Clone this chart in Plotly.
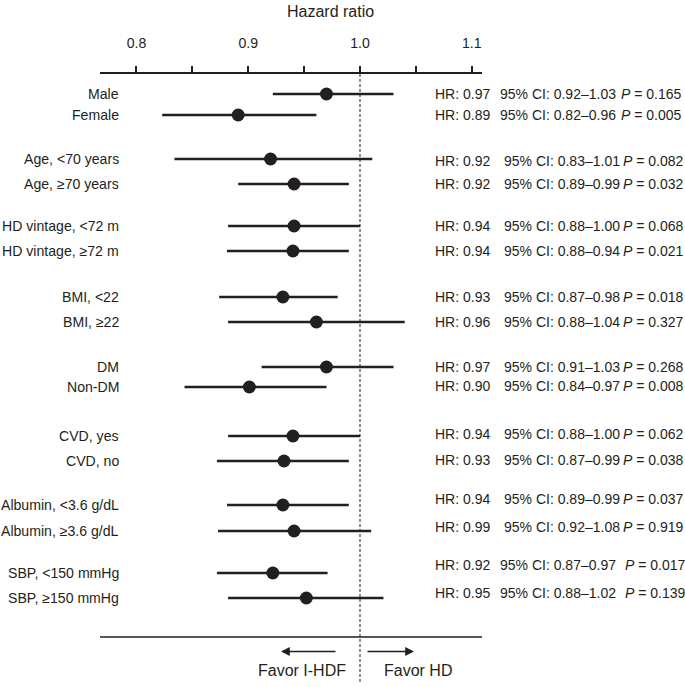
import plotly.graph_objects as go

# ---------------- data ----------------
labels = ["Male", "Female", "Age, <70 years", "Age, ≥70 years",
          "HD vintage, <72 m", "HD vintage, ≥72 m", "BMI, <22", "BMI, ≥22",
          "DM", "Non-DM", "CVD, yes", "CVD, no",
          "Albumin, <3.6 g/dL", "Albumin, ≥3.6 g/dL",
          "SBP, <150 mmHg", "SBP, ≥150 mmHg"]
hr = [0.970, 0.891, 0.920, 0.941, 0.941, 0.940, 0.931, 0.961,
      0.970, 0.901, 0.940, 0.932, 0.931, 0.941, 0.922, 0.952]
ci_lo = [0.922, 0.823, 0.834, 0.891, 0.882, 0.881, 0.874, 0.882,
         0.912, 0.843, 0.882, 0.872, 0.881, 0.873, 0.872, 0.882]
ci_hi = [1.030, 0.961, 1.011, 0.990, 1.000, 0.990, 0.980, 1.040,
         1.030, 0.970, 1.000, 0.990, 0.990, 1.010, 0.971, 1.021]

hr_txt = ["0.97", "0.89", "0.92", "0.92", "0.94", "0.94", "0.93", "0.96",
          "0.97", "0.90", "0.94", "0.93", "0.94", "0.99", "0.92", "0.95"]
ci_txt = ["0.92–1.03", "0.82–0.96", "0.83–1.01", "0.89–0.99",
          "0.88–1.00", "0.88–0.94", "0.87–0.98", "0.88–1.04",
          "0.91–1.03", "0.84–0.97", "0.88–1.00", "0.87–0.99",
          "0.89–0.99", "0.92–1.08", "0.87–0.97", "0.88–1.02"]
p_txt = ["0.165", "0.005", "0.082", "0.032", "0.068", "0.021", "0.018", "0.327",
         "0.268", "0.008", "0.062", "0.038", "0.037", "0.919", "0.017", "0.139"]

tick_vals = [0.8, 0.85, 0.9, 0.95, 1.0, 1.05, 1.1]
tick_text = ["0.8", "", "0.9", "", "1.0", "", "1.1"]

# ---------------- layout (pixel geometry) ----------------
W, H = 685, 687
PL, PR, PT, PB = 100, 482, 74, 637   # plot area in pixels
L, T = PL, PT
R, B = W - PR, H - PB
row_y = [94, 115, 159, 184, 226, 251, 297, 322, 367, 387, 436, 461, 505, 531, 573, 598]
text_y = [94, 115, 161, 184, 226, 251, 297, 322, 367, 386, 434, 460, 499, 527, 565, 593]
ci_col = [498, 498] + [501.5] * 12 + [498, 498]
p_col = [618.5, 618.5] + [620.5] * 12 + [622.5, 622.5]
hr_col = 433
INK = "#231f20"
FONT = "Arial, Liberation Sans, sans-serif"
FS = 14.1
FS_R = 14


def px(xp):
    return (xp - PL) / (PR - PL)


def py(yp):
    return 1 - (yp - PT) / (PB - PT)


fig = go.Figure()
fig.add_trace(go.Scatter(
    x=hr, y=[py(v) for v in row_y], mode="markers",
    marker=dict(size=13, color=INK),
    error_x=dict(type="data", symmetric=False,
                 array=[h - m for h, m in zip(ci_hi, hr)],
                 arrayminus=[m - l for m, l in zip(hr, ci_lo)],
                 width=0, thickness=2.6, color=INK),
    showlegend=False, hoverinfo="skip"))

ann = []
for i, lab in enumerate(labels):
    ann.append(dict(x=px(121), y=py(row_y[i]), xref="paper", yref="paper",
                    text=lab.replace("<", "&lt;"), xanchor="right", yanchor="middle",
                    showarrow=False, font=dict(size=FS, color=INK, family=FONT)))
    ann.append(dict(x=px(hr_col), y=py(text_y[i]), xref="paper", yref="paper",
                    text=f"HR: {hr_txt[i]}", xanchor="left", yanchor="middle",
                    showarrow=False, font=dict(size=FS_R, color=INK, family=FONT)))
    ann.append(dict(x=px(ci_col[i]), y=py(text_y[i]), xref="paper", yref="paper",
                    text=f"95% CI: {ci_txt[i]}", xanchor="left", yanchor="middle",
                    showarrow=False, font=dict(size=FS_R, color=INK, family=FONT)))
    ann.append(dict(x=px(p_col[i]), y=py(text_y[i]), xref="paper", yref="paper",
                    text=f"<i>P</i> = {p_txt[i]}", xanchor="left", yanchor="middle",
                    showarrow=False, font=dict(size=FS_R, color=INK, family=FONT)))

ann.append(dict(x=px(330), y=py(11), xref="paper", yref="paper", text="Hazard ratio",
                showarrow=False, xanchor="center", yanchor="middle",
                font=dict(size=16, color=INK, family=FONT)))
ann.append(dict(x=px(302), y=py(670), xref="paper", yref="paper", text="Favor I-HDF",
                showarrow=False, xanchor="center", yanchor="middle",
                font=dict(size=16, color=INK, family=FONT)))
ann.append(dict(x=px(418), y=py(670), xref="paper", yref="paper", text="Favor HD",
                showarrow=False, xanchor="center", yanchor="middle",
                font=dict(size=16, color=INK, family=FONT)))
# arrows
ann.append(dict(x=px(281), y=py(651.5), xref="paper", yref="paper", text="",
                showarrow=True, ax=56, ay=0, arrowhead=2, arrowsize=1.1,
                arrowwidth=1.6, arrowcolor=INK))
ann.append(dict(x=px(414), y=py(651.5), xref="paper", yref="paper", text="",
                showarrow=True, ax=-48, ay=0, arrowhead=2, arrowsize=1.1,
                arrowwidth=1.6, arrowcolor=INK))

shapes = [
    dict(type="line", xref="x", yref="paper", x0=1.0, x1=1.0, y0=1, y1=py(684),
         line=dict(color=INK, width=1, dash="3px,2px")),
    dict(type="line", xref="paper", yref="paper", x0=0, x1=1, y0=0, y1=0,
         line=dict(color=INK, width=1.5)),
]

x0 = 1.0 - (360 - PL) / 1117.7
x1 = 1.0 + (PR - 360) / 1117.7

fig.update_layout(
    width=W, height=H,
    margin=dict(l=L, r=R, t=T, b=B, autoexpand=False),
    paper_bgcolor="white", plot_bgcolor="white",
    annotations=ann, shapes=shapes,
    xaxis=dict(side="top", range=[x0, x1], tickvals=tick_vals, ticktext=tick_text,
               showline=True, linecolor=INK, linewidth=2, ticks="outside",
               ticklen=6, tickwidth=1.5, tickcolor=INK, showgrid=False,
               zeroline=False, ticklabelstandoff=12,
               tickfont=dict(size=FS, color=INK, family=FONT)),
    yaxis=dict(range=[0, 1], visible=False, showgrid=False, zeroline=False),
)

fig.write_html("out.html", config={"displayModeBar": False},
               post_script="document.body.style.margin='0px';"
                           "document.body.style.overflow='hidden';")
